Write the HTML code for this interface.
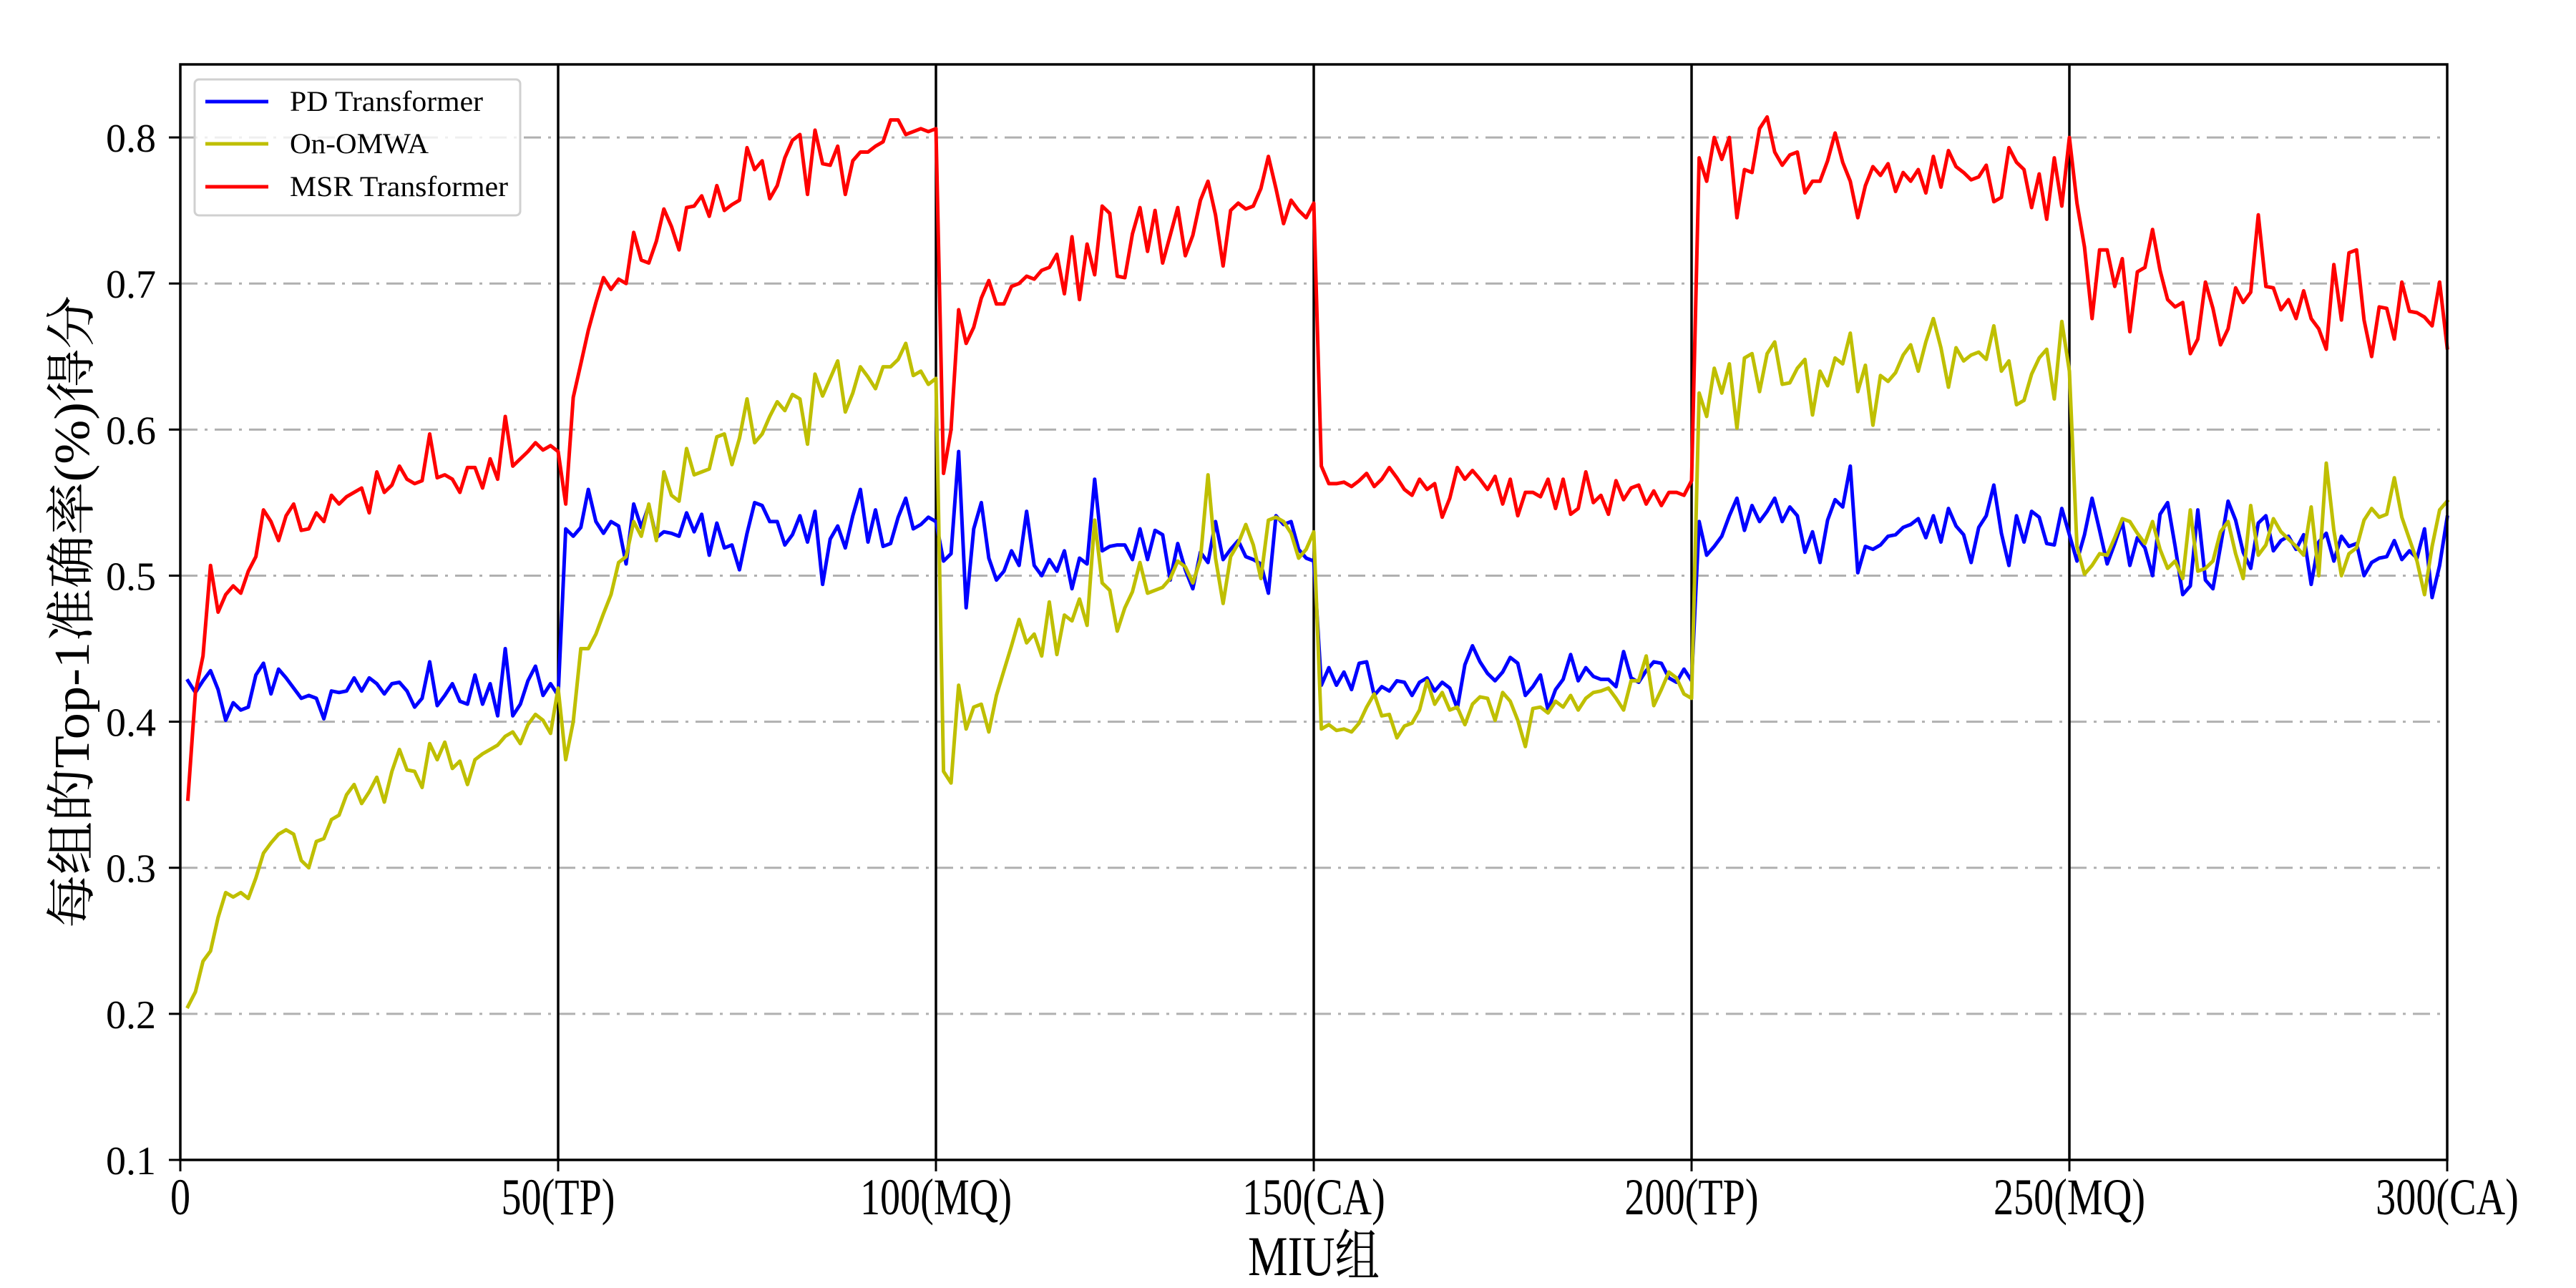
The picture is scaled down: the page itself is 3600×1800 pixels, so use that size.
<!DOCTYPE html>
<html><head><meta charset="utf-8"><style>
html,body{margin:0;padding:0;background:#fff;}
svg{display:block;}
</style></head><body>
<svg id="chart" xmlns="http://www.w3.org/2000/svg" width="3600" height="1800" viewBox="0 0 3600 1800">
<rect x="0" y="0" width="3600" height="1800" fill="#fff"/>
<g id="grid"></g>
<g id="vlines"></g>
<g id="series"></g>
<g id="axes"></g>
<text x="1836" y="1782" font-family="'Liberation Serif','Noto Serif CJK SC',serif" font-size="78" text-anchor="middle" textLength="184" lengthAdjust="spacingAndGlyphs">MIU组</text>
<text transform="translate(124,855) rotate(-90)" font-family="'Liberation Serif','Noto Serif CJK SC',serif" font-size="70" text-anchor="middle" textLength="884" lengthAdjust="spacingAndGlyphs">每组的Top-1准确率(%)得分</text>
<g>
<rect x="272" y="111" width="455" height="190" rx="6" fill="#fff" fill-opacity="0.8" stroke="#d0d0d0" stroke-width="3"/>
<line x1="287" y1="142" x2="375" y2="142" stroke="#0000ff" stroke-width="5"/>
<text x="405" y="155" font-family="'Liberation Serif',serif" font-size="40" textLength="270" lengthAdjust="spacingAndGlyphs">PD Transformer</text>
<line x1="287" y1="201" x2="375" y2="201" stroke="#bfbf00" stroke-width="5"/>
<text x="405" y="214" font-family="'Liberation Serif',serif" font-size="40" textLength="194" lengthAdjust="spacingAndGlyphs">On-OMWA</text>
<line x1="287" y1="261" x2="375" y2="261" stroke="#ff0000" stroke-width="5"/>
<text x="405" y="274" font-family="'Liberation Serif',serif" font-size="40" textLength="305" lengthAdjust="spacingAndGlyphs">MSR Transformer</text>
</g>
</svg>
<script>
const xTickValues=[0,50,100,150,200,250,300];
const xTickLabels=["0","50(TP)","100(MQ)","150(CA)","200(TP)","250(MQ)","300(CA)"];
const yTickValues=[0.1,0.2,0.3,0.4,0.5,0.6,0.7,0.8];
const yTickLabels=["0.1","0.2","0.3","0.4","0.5","0.6","0.7","0.8"];
const dividerValues=[50,100,150,200,250];
const msrValues=[
0.347,0.42,0.445,0.507,0.475,0.487,0.493,0.488,0.503,0.513,0.545,0.537,0.524,0.541,0.549,0.531,0.532,0.543,0.537,0.555,0.549,0.554,0.557,0.560,0.543,0.571,0.557,0.562,0.575,0.566,0.563,0.565,0.597,0.567,0.569,0.566,0.557,0.574,0.574,0.560,0.580,0.566,0.609,0.575,0.580,0.585,0.591,0.586,0.589,0.585,
0.549,0.622,0.645,0.668,0.687,0.704,0.696,0.703,0.700,0.735,0.716,0.714,0.729,0.751,0.739,0.723,0.752,0.753,0.760,0.746,0.767,0.750,0.754,0.757,0.793,0.778,0.784,0.758,0.767,0.786,0.798,0.802,0.761,0.805,0.782,0.781,0.794,0.761,0.784,0.790,0.790,0.794,0.797,0.812,0.812,0.802,0.804,0.806,0.804,0.806,
0.570,0.600,0.682,0.659,0.670,0.690,0.702,0.686,0.686,0.698,0.700,0.705,0.703,0.709,0.711,0.720,0.693,0.732,0.689,0.727,0.706,0.753,0.748,0.705,0.704,0.734,0.752,0.722,0.750,0.714,0.733,0.752,0.719,0.733,0.757,0.770,0.747,0.712,0.750,0.755,0.751,0.753,0.765,0.787,0.765,0.741,0.757,0.750,0.745,0.755,
0.575,0.563,0.563,0.564,0.561,0.565,0.570,0.561,0.566,0.574,0.567,0.559,0.555,0.566,0.559,0.563,0.540,0.553,0.574,0.566,0.572,0.566,0.559,0.568,0.549,0.566,0.541,0.557,0.557,0.554,0.566,0.546,0.566,0.542,0.546,0.571,0.550,0.555,0.542,0.565,0.552,0.560,0.562,0.549,0.558,0.548,0.557,0.557,0.555,0.565,
0.786,0.770,0.800,0.785,0.800,0.745,0.778,0.776,0.806,0.814,0.790,0.781,0.788,0.790,0.762,0.770,0.770,0.784,0.803,0.783,0.770,0.745,0.767,0.780,0.774,0.782,0.763,0.776,0.770,0.778,0.762,0.787,0.766,0.791,0.780,0.776,0.771,0.773,0.781,0.756,0.759,0.793,0.783,0.778,0.752,0.775,0.744,0.786,0.753,0.800,
0.755,0.725,0.676,0.723,0.723,0.698,0.717,0.667,0.708,0.711,0.737,0.709,0.689,0.684,0.687,0.652,0.662,0.701,0.683,0.658,0.669,0.697,0.687,0.694,0.747,0.698,0.697,0.682,0.689,0.676,0.695,0.676,0.669,0.655,0.713,0.675,0.721,0.723,0.675,0.650,0.684,0.683,0.662,0.701,0.681,0.680,0.677,0.671,0.701,0.656];
const pdValues=[
0.428,0.420,0.428,0.435,0.422,0.401,0.413,0.408,0.410,0.432,0.440,0.419,0.436,0.430,0.423,0.416,0.418,0.416,0.402,0.421,0.420,0.421,0.430,0.421,0.430,0.426,0.419,0.426,0.427,0.421,0.410,0.416,0.441,0.411,0.418,0.426,0.414,0.412,0.432,0.412,0.426,0.404,0.450,0.404,0.412,0.428,0.438,0.418,0.426,0.418,
0.532,0.527,0.533,0.559,0.537,0.529,0.537,0.534,0.508,0.549,0.533,0.548,0.526,0.530,0.529,0.527,0.543,0.530,0.542,0.514,0.536,0.519,0.521,0.504,0.529,0.550,0.548,0.537,0.537,0.521,0.528,0.541,0.523,0.544,0.494,0.525,0.534,0.519,0.541,0.559,0.523,0.545,0.520,0.522,0.540,0.553,0.532,0.535,0.540,0.537,
0.510,0.515,0.585,0.478,0.532,0.550,0.512,0.497,0.503,0.517,0.507,0.544,0.507,0.500,0.511,0.503,0.517,0.491,0.512,0.508,0.566,0.517,0.520,0.521,0.521,0.511,0.532,0.511,0.531,0.528,0.497,0.522,0.504,0.491,0.516,0.509,0.537,0.511,0.518,0.524,0.513,0.511,0.508,0.488,0.541,0.535,0.537,0.518,0.512,0.510,
0.425,0.437,0.425,0.434,0.422,0.440,0.441,0.418,0.424,0.421,0.428,0.427,0.418,0.427,0.430,0.421,0.427,0.423,0.409,0.439,0.452,0.441,0.433,0.428,0.434,0.444,0.440,0.418,0.424,0.432,0.408,0.422,0.429,0.446,0.428,0.437,0.431,0.429,0.429,0.424,0.448,0.430,0.427,0.435,0.441,0.440,0.430,0.427,0.436,0.428,
0.537,0.514,0.520,0.527,0.541,0.553,0.531,0.548,0.537,0.544,0.553,0.537,0.547,0.541,0.516,0.530,0.509,0.538,0.552,0.547,0.575,0.502,0.520,0.518,0.521,0.527,0.528,0.533,0.535,0.539,0.526,0.541,0.523,0.546,0.534,0.528,0.509,0.533,0.541,0.562,0.529,0.507,0.541,0.523,0.544,0.540,0.522,0.521,0.546,0.528,
0.510,0.528,0.553,0.531,0.508,0.522,0.537,0.507,0.526,0.519,0.500,0.542,0.550,0.520,0.487,0.493,0.545,0.497,0.491,0.520,0.551,0.538,0.516,0.505,0.536,0.541,0.517,0.524,0.527,0.518,0.528,0.494,0.523,0.529,0.510,0.527,0.520,0.522,0.500,0.509,0.512,0.513,0.524,0.511,0.517,0.512,0.532,0.485,0.507,0.540];
const omwaValues=[
0.205,0.215,0.236,0.243,0.266,0.283,0.280,0.283,0.279,0.293,0.310,0.317,0.323,0.326,0.323,0.305,0.300,0.318,0.320,0.333,0.336,0.350,0.357,0.344,0.352,0.362,0.345,0.366,0.381,0.367,0.366,0.355,0.385,0.374,0.386,0.368,0.373,0.357,0.374,0.378,0.381,0.384,0.390,0.393,0.385,0.398,0.405,0.401,0.392,0.423,
0.374,0.400,0.450,0.450,0.460,0.474,0.487,0.509,0.513,0.537,0.527,0.549,0.524,0.571,0.555,0.551,0.587,0.569,0.571,0.573,0.595,0.597,0.576,0.594,0.621,0.591,0.597,0.609,0.619,0.613,0.624,0.621,0.590,0.638,0.623,0.635,0.647,0.612,0.625,0.643,0.636,0.628,0.643,0.643,0.648,0.659,0.637,0.640,0.631,0.635,
0.366,0.358,0.425,0.395,0.410,0.412,0.393,0.418,0.435,0.452,0.470,0.454,0.460,0.445,0.482,0.446,0.473,0.469,0.484,0.466,0.538,0.495,0.490,0.462,0.478,0.489,0.509,0.488,0.490,0.492,0.498,0.510,0.506,0.495,0.511,0.569,0.512,0.481,0.513,0.522,0.535,0.521,0.498,0.538,0.540,0.537,0.529,0.512,0.518,0.530,
0.395,0.398,0.394,0.395,0.393,0.399,0.410,0.419,0.404,0.405,0.389,0.397,0.399,0.408,0.428,0.412,0.420,0.408,0.410,0.398,0.412,0.417,0.416,0.401,0.420,0.414,0.401,0.383,0.409,0.410,0.406,0.414,0.410,0.418,0.408,0.416,0.420,0.421,0.423,0.416,0.408,0.428,0.428,0.445,0.411,0.422,0.434,0.430,0.419,0.416,
0.625,0.609,0.642,0.625,0.645,0.601,0.649,0.652,0.626,0.652,0.660,0.631,0.632,0.642,0.648,0.610,0.640,0.630,0.649,0.645,0.666,0.626,0.644,0.603,0.637,0.633,0.639,0.651,0.658,0.640,0.660,0.676,0.656,0.629,0.656,0.647,0.651,0.653,0.648,0.671,0.640,0.647,0.617,0.620,0.638,0.649,0.655,0.621,0.674,0.640,
0.520,0.501,0.507,0.515,0.514,0.526,0.539,0.537,0.529,0.522,0.537,0.518,0.505,0.510,0.498,0.545,0.503,0.505,0.510,0.530,0.537,0.515,0.498,0.548,0.514,0.521,0.539,0.530,0.525,0.520,0.514,0.547,0.500,0.577,0.531,0.500,0.515,0.519,0.538,0.546,0.540,0.542,0.567,0.540,0.525,0.510,0.487,0.520,0.545,0.551];

const NS="http://www.w3.org/2000/svg";
const L=252,R=3420,T=90,B=1621;
const X0=0,X1=300,Y0=0.1,Y1=0.85;
function xs(v){return L+(v-X0)/(X1-X0)*(R-L);}
function ys(v){return B-(v-Y0)/(Y1-Y0)*(B-T);}
function mk(tag,attrs,parent){const e=document.createElementNS(NS,tag);for(const k in attrs)e.setAttribute(k,attrs[k]);parent.appendChild(e);return e;}
const grid=document.getElementById('grid');
yTickValues.forEach(v=>{if(v<=Y0)return;
 const g=mk('line',{x1:L,x2:R,y1:ys(v),y2:ys(v),stroke:'#b0b0b0','stroke-width':3,'stroke-dasharray':'24 10 4 10'},grid);
 
 
});
const vl=document.getElementById('vlines');
dividerValues.forEach(v=>{
 const l=mk('line',{x1:xs(v),x2:xs(v),y1:T,y2:B,stroke:'#000','stroke-width':3.5},vl);
 
 
});
const ser=document.getElementById('series');
function drawSeries(vals,color,name){
 const pts=vals.map((v,i)=>xs(i+1).toFixed(1)+','+ys(v).toFixed(1)).join(' ');
 const p=mk('polyline',{points:pts,fill:'none',stroke:color,'stroke-width':5,'stroke-linejoin':'round','stroke-linecap':'square'},ser);
 
 
}
drawSeries(pdValues,'#0000ff','series-pd-transformer');
drawSeries(omwaValues,'#bfbf00','series-on-omwa');
drawSeries(msrValues,'#ff0000','series-msr-transformer');
const ax=document.getElementById('axes');
const frame=mk('rect',{x:L,y:T,width:R-L,height:B-T,fill:'none',stroke:'#000','stroke-width':3.5},ax);


xTickValues.forEach((v,i)=>{
 const t=mk('line',{x1:xs(v),x2:xs(v),y1:B,y2:B+16,stroke:'#000','stroke-width':3},ax);
 
 
 const tx=mk('text',{x:xs(v),y:1697,'font-family':"'Liberation Serif',serif",'font-size':72,'text-anchor':'middle',transform:'translate('+xs(v)+',0) scale(0.78,1) translate('+(-xs(v))+',0)'},ax);
 tx.textContent=xTickLabels[i];
 
 
});
yTickValues.forEach((v,i)=>{
 const t=mk('line',{x1:L-16,x2:L,y1:ys(v),y2:ys(v),stroke:'#000','stroke-width':3},ax);
 
 
 const tx=mk('text',{x:L-34,y:ys(v)+20,'font-family':"'Liberation Serif',serif",'font-size':56,'text-anchor':'end'},ax);
 tx.textContent=yTickLabels[i];
 
 
});
</script>
</body></html>
